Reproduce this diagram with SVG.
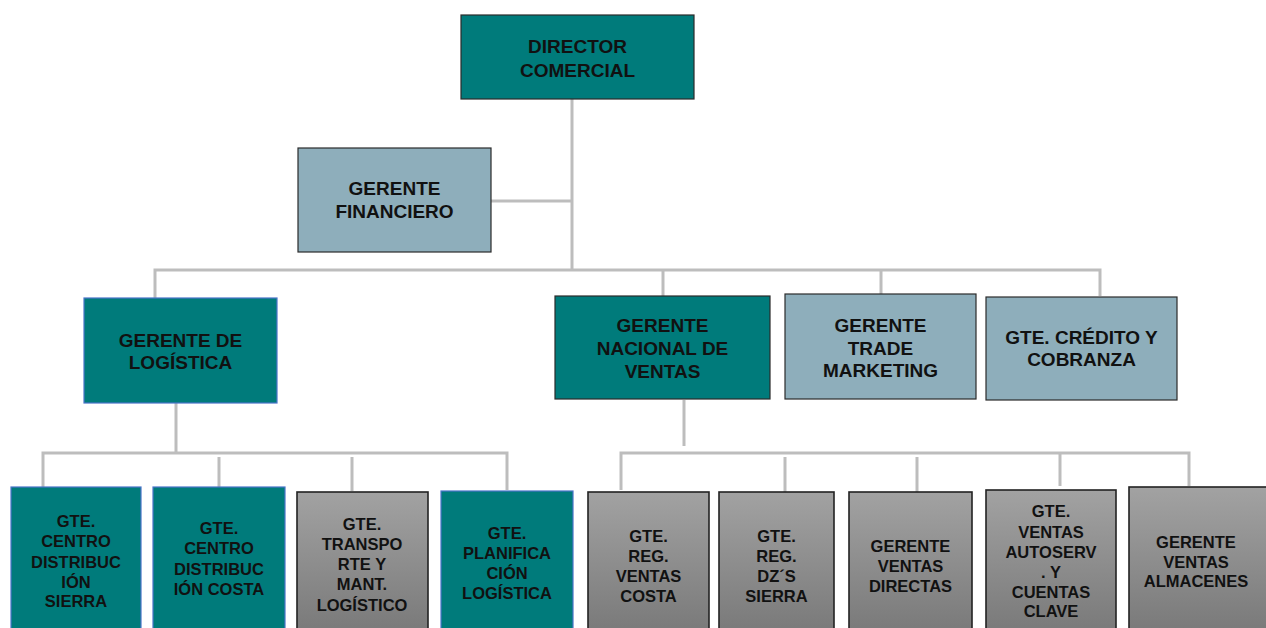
<svg xmlns="http://www.w3.org/2000/svg" width="1266" height="628" viewBox="0 0 1266 628">
<defs>
<linearGradient id="gray" x1="0" y1="0" x2="0" y2="1">
<stop offset="0" stop-color="#a2a2a2"/>
<stop offset="1" stop-color="#787878"/>
</linearGradient>
</defs>
<style>
.teal{fill:#007b7b;stroke:#2b2b2b;stroke-width:1.2}
.tealb{fill:#007b7b;stroke:#4a74c9;stroke-width:1.2}
.light{fill:#8eaebb;stroke:#2b2b2b;stroke-width:1.2}
.gray{fill:url(#gray);stroke:#222;stroke-width:1.6}
text{font-family:"Liberation Sans",Arial,sans-serif;font-weight:bold;fill:#111;text-anchor:middle}
.t1{font-size:19px}
.t2{font-size:16.5px}
.con{fill:none;stroke:#bdbdbd;stroke-width:3}
</style>
<rect width="1266" height="628" fill="#fff"/>
<g id="connectors" class="con">
<path d="M572 99V270M491 201H572"/>
<path d="M155 298V270H1100V296M663 270V296M881 270V294"/>
<path d="M176 403V453M43 489V453H507V490M219 457V493M352 457V491"/>
<path d="M684 400V446M621 490V453H1189V486M785 457V492M917 457V492M1060 453V486"/>
</g>
<g id="director"><rect class="teal" x="461" y="15" width="233" height="84"/>
<text class="t1" x="577.5" y="53">DIRECTOR</text><text class="t1" x="577.5" y="77">COMERCIAL</text></g>
<g id="financiero"><rect class="light" x="298" y="148" width="193" height="104"/>
<text class="t1" x="394.5" y="195">GERENTE</text><text class="t1" x="394.5" y="218">FINANCIERO</text></g>
<g id="logistica"><rect class="tealb" x="84" y="298" width="193" height="105"/>
<text class="t1" x="180.5" y="347">GERENTE DE</text><text class="t1" x="180.5" y="369">LOGÍSTICA</text></g>
<g id="nacional"><rect class="teal" x="555" y="296" width="215" height="103"/>
<text class="t1" x="662.5" y="332">GERENTE</text><text class="t1" x="662.5" y="355">NACIONAL DE</text><text class="t1" x="662.5" y="378">VENTAS</text></g>
<g id="trade"><rect class="light" x="785" y="294" width="191" height="105"/>
<text class="t1" x="880.5" y="332">GERENTE</text><text class="t1" x="880.5" y="355">TRADE</text><text class="t1" x="880.5" y="377">MARKETING</text></g>
<g id="credito"><rect class="light" x="986" y="297" width="191" height="103"/>
<text class="t1" x="1081.5" y="344">GTE. CRÉDITO Y</text><text class="t1" x="1081.5" y="366">COBRANZA</text></g>
<g id="cd-sierra"><rect class="tealb" x="11" y="487" width="130" height="150"/>
<text class="t2" x="76" y="527">GTE.</text><text class="t2" x="76" y="547">CENTRO</text><text class="t2" x="76" y="568">DISTRIBUC</text><text class="t2" x="76" y="588">IÓN</text><text class="t2" x="76" y="607">SIERRA</text></g>
<g id="cd-costa"><rect class="tealb" x="153" y="487" width="132" height="150"/>
<text class="t2" x="219" y="534">GTE.</text><text class="t2" x="219" y="554">CENTRO</text><text class="t2" x="219" y="575">DISTRIBUC</text><text class="t2" x="219" y="595">IÓN COSTA</text></g>
<g id="transporte"><rect class="gray" x="297" y="492" width="131" height="145"/>
<text class="t2" x="362" y="530">GTE.</text><text class="t2" x="362" y="550">TRANSPO</text><text class="t2" x="362" y="570">RTE Y</text><text class="t2" x="362" y="590">MANT.</text><text class="t2" x="362" y="611">LOGÍSTICO</text></g>
<g id="planificacion"><rect class="tealb" x="441" y="491" width="132" height="146"/>
<text class="t2" x="507" y="539">GTE.</text><text class="t2" x="507" y="559">PLANIFICA</text><text class="t2" x="507" y="579">CIÓN</text><text class="t2" x="507" y="599">LOGÍSTICA</text></g>
<g id="reg-costa"><rect class="gray" x="588" y="492" width="121" height="145"/>
<text class="t2" x="648.5" y="542">GTE.</text><text class="t2" x="648.5" y="562">REG.</text><text class="t2" x="648.5" y="582">VENTAS</text><text class="t2" x="648.5" y="602">COSTA</text></g>
<g id="reg-sierra"><rect class="gray" x="719" y="492" width="115" height="145"/>
<text class="t2" x="776.5" y="542">GTE.</text><text class="t2" x="776.5" y="562">REG.</text><text class="t2" x="776.5" y="582">DZ´S</text><text class="t2" x="776.5" y="602">SIERRA</text></g>
<g id="directas"><rect class="gray" x="849" y="492" width="123" height="145"/>
<text class="t2" x="910.5" y="552">GERENTE</text><text class="t2" x="910.5" y="572">VENTAS</text><text class="t2" x="910.5" y="592">DIRECTAS</text></g>
<g id="autoservicios"><rect class="gray" x="986" y="490" width="130" height="147"/>
<text class="t2" x="1051" y="517">GTE.</text><text class="t2" x="1051" y="538">VENTAS</text><text class="t2" x="1051" y="558">AUTOSERV</text><text class="t2" x="1051" y="578">. Y</text><text class="t2" x="1051" y="598">CUENTAS</text><text class="t2" x="1051" y="617">CLAVE</text></g>
<g id="almacenes"><rect class="gray" x="1129" y="487" width="140" height="150"/>
<text class="t2" x="1196" y="548">GERENTE</text><text class="t2" x="1196" y="568">VENTAS</text><text class="t2" x="1196" y="587">ALMACENES</text></g>
</svg>
